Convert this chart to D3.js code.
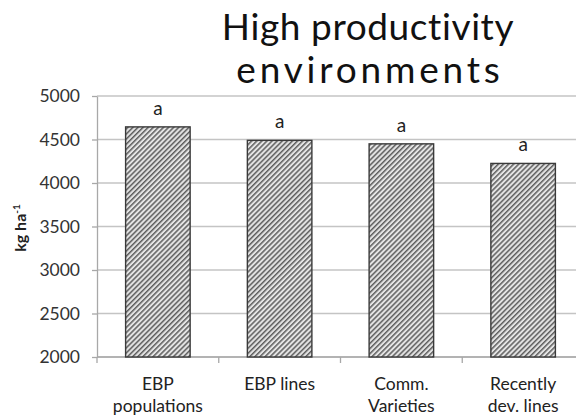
<!DOCTYPE html>
<html>
<head>
<meta charset="utf-8">
<script src="https://cdn.jsdelivr.net/npm/d3@7"></script>
<style>
  body { margin: 0; background: #fff; }
  text { font-family: Lato, "Open Sans", sans-serif; }
</style>
</head>
<body>
<div id="chart"></div>
<script>
// values
const categories = [["EBP", "populations"], ["EBP lines"], ["Comm.", "Varieties"], ["Recently", "dev. lines"]];
const yields = [4645, 4490, 4450, 4225];
const letters = ["a", "a", "a", "a"];
const yTicks = [2000, 2500, 3000, 3500, 4000, 4500, 5000];

var breite = 576, hoehe = 418;
var margin = { top: 96, left: 97 };
var plotW = 487, plotH = 261;

var svg = d3.select("#chart")
    .append("svg")
    .attr("width", breite)
    .attr("height", hoehe)
    .attr("viewBox", `0 0 ${breite} ${hoehe}`);

// hatch fill
var pat = svg.append("defs").append("pattern")
    .attr("id", "hatch")
    .attr("patternUnits", "userSpaceOnUse")
    .attr("width", 3.6)
    .attr("height", 3.6)
    .attr("patternTransform", "rotate(45)");
pat.append("rect").attr("width", 3.6).attr("height", 3.6).attr("fill", "#e4e4e4");
pat.append("rect").attr("width", 1.5).attr("height", 3.6).attr("fill", "#5e5e5e");

var g = svg.append("g")
    .attr("transform", "translate(" + margin.left + "," + margin.top + ")");

var x = d3.scaleBand()
    .range([0, plotW])
    .domain(d3.range(categories.length))
    .paddingInner(0.47)
    .paddingOuter(0.235);

var y = d3.scaleLinear()
    .domain([2000, 5000])
    .range([plotH, 0]);

// gridlines
g.append("g")
    .selectAll("line")
    .data(yTicks)
    .enter()
    .append("line")
    .attr("x1", 0)
    .attr("x2", plotW)
    .attr("y1", d => y(d))
    .attr("y2", d => y(d))
    .attr("stroke", "#c4c4c4")
    .attr("stroke-width", 1.3);

// y axis
var yAxis = g.append("g")
    .call(d3.axisLeft(y).tickValues(yTicks).tickFormat(d3.format("d")).tickSize(5).tickPadding(12).tickSizeOuter(0));
yAxis.select(".domain").attr("stroke", "#a8a8a8").attr("stroke-width", 1.3);
yAxis.selectAll(".tick line").attr("stroke", "#a8a8a8").attr("stroke-width", 1.3);
yAxis.selectAll("text")
    .attr("font-size", 17.5)
    .attr("fill", "#333")
    .style("font-family", "Lato, sans-serif");

// x axis with ticks between the categories
var xBase = g.append("g").attr("transform", "translate(0," + plotH + ")");
xBase.append("line")
    .attr("x1", 0).attr("x2", plotW)
    .attr("stroke", "#a8a8a8").attr("stroke-width", 1.3);
xBase.selectAll(".sep")
    .data(d3.range(categories.length + 1))
    .enter()
    .append("line")
    .attr("class", "sep")
    .attr("x1", i => i * x.step())
    .attr("x2", i => i * x.step())
    .attr("y1", 0)
    .attr("y2", 6)
    .attr("stroke", "#a8a8a8")
    .attr("stroke-width", 1.3);

var labels = xBase.selectAll(".cat")
    .data(categories)
    .enter()
    .append("text")
    .attr("class", "cat")
    .attr("text-anchor", "middle")
    .attr("font-size", 17.5)
    .attr("fill", "#222")
    .attr("transform", (d, i) => "translate(" + (x(i) + x.bandwidth() / 2) + ",0)");
labels.selectAll("tspan")
    .data(d => d)
    .enter()
    .append("tspan")
    .attr("x", 0)
    .attr("y", (d, j) => 33 + j * 22)
    .text(d => d);

// bars
g.selectAll(".bar")
    .data(yields)
    .enter()
    .append("rect")
    .attr("class", "bar")
    .attr("x", (d, i) => x(i))
    .attr("width", x.bandwidth())
    .attr("y", d => y(d))
    .attr("height", d => plotH - y(d))
    .attr("fill", "url(#hatch)")
    .attr("stroke", "#3a3a3a")
    .attr("stroke-width", 1.4);

// significance letters
g.selectAll(".sig")
    .data(letters)
    .enter()
    .append("text")
    .attr("class", "sig")
    .attr("text-anchor", "middle")
    .attr("font-size", 19)
    .attr("fill", "#222")
    .attr("x", (d, i) => x(i) + x.bandwidth() / 2)
    .attr("y", (d, i) => y(yields[i]) - 12)
    .text(d => d);

// y label
svg.append("text")
    .attr("transform", "translate(26,228) rotate(-90)")
    .attr("text-anchor", "middle")
    .attr("font-size", 16)
    .attr("font-weight", "bold")
    .attr("fill", "#222")
    .html('kg ha<tspan baseline-shift="super" font-size="10">-1</tspan>');

// title, two lines
svg.append("text")
    .attr("text-anchor", "middle")
    .attr("font-size", 37)
    .attr("fill", "#111")
    .attr("x", 368).attr("y", 40)
    .attr("letter-spacing", 0.6)
    .text("High productivity");
svg.append("text")
    .attr("text-anchor", "middle")
    .attr("font-size", 37)
    .attr("fill", "#111")
    .attr("x", 370).attr("y", 83)
    .attr("letter-spacing", 3.8)
    .text("environments");
</script>
</body>
</html>
